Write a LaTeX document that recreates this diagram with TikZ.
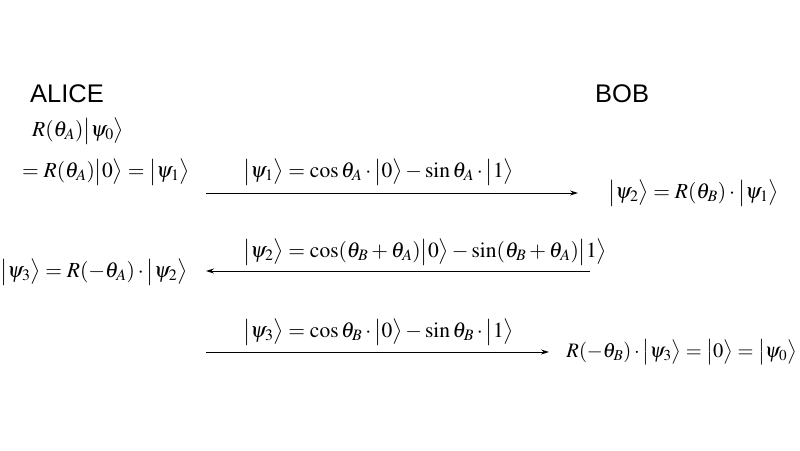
\documentclass[tikz,border=0pt]{standalone}
\usepackage{mathptmx}
\usepackage[no-math]{fontspec}
\setsansfont{Liberation Sans}
\usetikzlibrary{arrows.meta}
\tikzset{
  lbl/.style={inner sep=0pt, anchor=west, font=\fontsize{21.5}{25}\selectfont},
  party/.style={inner sep=0pt, anchor=west, font=\sffamily\fontsize{25.5}{30}\selectfont},
  msg/.style={draw=black, line width=0.9pt, -{Stealth[length=8pt,width=5pt]}}
}
\newcommand{\kt}[1]{\bigl|#1\bigr\rangle}
\begin{document}
\begin{tikzpicture}[x=1pt,y=-1pt]
\useasboundingbox (0,0) rectangle (800,450);
\fill[white] (0,0) rectangle (800,450);
% names
\node[party] (alice) at (30,94) {ALICE};
\node[party] (bob) at (595,94) {BOB};
% Alice initial
\node[lbl] (a0) at (32,131) {$R(\theta_A)\kt{\psi_0}$};
\node[lbl] (a1) at (22,172) {$= R(\theta_A)\kt{0} = \kt{\psi_1}$};
% arrow 1
\coordinate (s1) at (206,193);
\coordinate (e1) at (578,193);
\draw[msg] (s1) -- (e1);
\node[lbl] (l1) at (243,172) {$\kt{\psi_1} = \cos\theta_A\cdot\kt{0} - \sin\theta_A\cdot\kt{1}$};
\node[lbl] (b1) at (608,193) {$\kt{\psi_2} = R(\theta_B)\cdot\kt{\psi_1}$};
% arrow 2
\coordinate (s2) at (590,271);
\coordinate (e2) at (206,271);
\draw[msg] (s2) -- (e2);
\node[lbl] (l2) at (243,252) {$\kt{\psi_2} = \cos(\theta_B+\theta_A)\kt{0} - \sin(\theta_B+\theta_A)\kt{1}$};
\node[lbl] (a2) at (0,272) {$\kt{\psi_3} = R(-\theta_A)\cdot\kt{\psi_2}$};
% arrow 3
\coordinate (s3) at (206,352);
\coordinate (e3) at (549,352);
\draw[msg] (s3) -- (e3);
\node[lbl] (l3) at (243,332) {$\kt{\psi_3} = \cos\theta_B\cdot\kt{0} - \sin\theta_B\cdot\kt{1}$};
\node[lbl, anchor=east, font=\fontsize{20.5}{24}\selectfont] (b2) at (797,352) {$R(-\theta_B)\cdot\kt{\psi_3} = \kt{0} = \kt{\psi_0}$};
\end{tikzpicture}
\end{document}
